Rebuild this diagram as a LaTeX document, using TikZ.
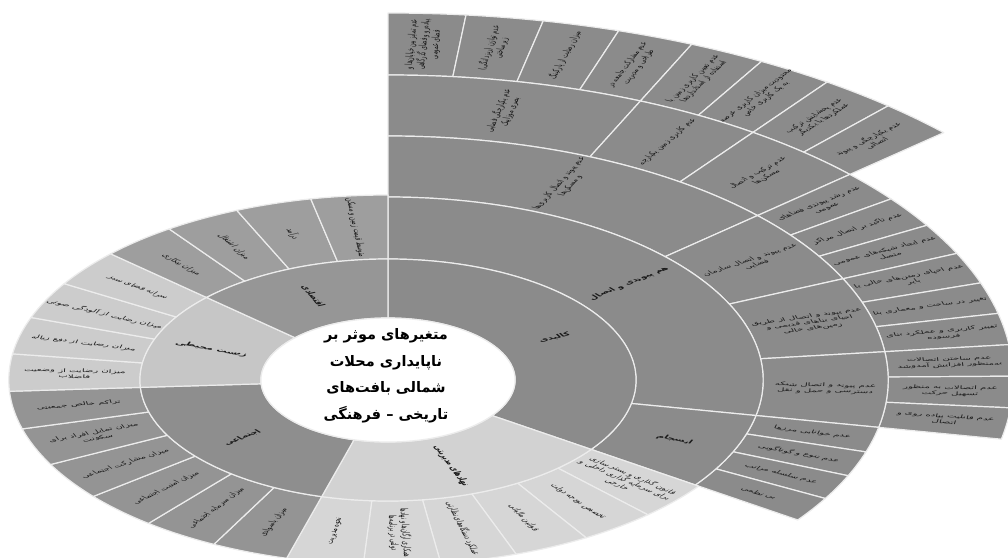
\documentclass[tikz,border=0pt]{standalone}
\usepackage{fontspec}
\TeXXeTstate=1
\newfontfamily\arabicfont[Script=Arabic]{DejaVu Sans}
\newcommand\fa[1]{\beginR#1\endR}
\definecolor{kal}{RGB}{139,139,139}
\definecolor{nahA}{RGB}{210,210,210}
\definecolor{nahB}{RGB}{214,214,214}
\definecolor{ejtA}{RGB}{142,142,142}
\definecolor{ejtB}{RGB}{148,148,148}
\definecolor{zisA}{RGB}{198,198,198}
\definecolor{zisB}{RGB}{204,204,204}
\definecolor{eqtA}{RGB}{150,150,150}
\definecolor{eqtB}{RGB}{158,158,158}
\definecolor{sepc}{RGB}{236,236,236}
\definecolor{txt}{RGB}{25,25,25}
\tikzset{
 sep/.style={draw=sepc,line width=1.2pt,line join=round},
 lbl/.style={font=\arabicfont\fontsize{4.9}{5.9}\selectfont,text=txt,align=center,inner sep=0pt},
 lblb/.style={font=\arabicfont\bfseries\fontsize{5.2}{6.2}\selectfont,text=txt,align=center,inner sep=0pt},
 ttl/.style={font=\arabicfont\bfseries\fontsize{14.5}{26.5}\selectfont,text=black,align=center,inner sep=0pt},
}
\newcommand\seg[5]{\filldraw[sep,fill=#5] (#1:#3) arc[start angle=#1,end angle=#2,radius=#3] -- (#2:#4) arc[start angle=#2,end angle=#1,radius=#4] -- cycle;}
\newcommand\lab[5][lbl]{%
  \pgfmathsetmacro\labrot{cos(#2)<0 ? #2+180 : #2}%
  \node[#1,transform shape,rotate=\labrot] (#4) at (#2:#3) {#5};}
\begin{document}
\begin{tikzpicture}[x=1pt,y=1pt]
\useasboundingbox (0,0) rectangle (1008,-557);
\fill[white] (0,0) rectangle (1008,-557);
\clip (0,0) rectangle (1008,-557);
\begin{scope}[shift={(388,-380)},xscale=2.05]
% ---------- ring 5
\seg{90}{84.048}{305}{367}{kal}
\seg{84.048}{78.095}{305}{367}{kal}
\seg{78.095}{72.143}{305}{367}{kal}
\seg{72.143}{66.190}{305}{367}{kal}
\seg{66.190}{60.238}{305}{367}{kal}
\seg{60.238}{54.286}{305}{367}{kal}
\seg{54.286}{48.333}{305}{367}{kal}
\seg{48.333}{42.381}{305}{367}{kal}
% ---------- ring 4
\seg{90}{66.190}{244}{305}{kal}
\seg{66.190}{54.286}{244}{305}{kal}
\seg{54.286}{42.381}{244}{305}{kal}
\seg{42.381}{36.429}{244}{305}{kal}
\seg{36.429}{30.476}{244}{305}{kal}
\seg{30.476}{24.524}{244}{305}{kal}
\seg{24.524}{18.571}{244}{305}{kal}
\seg{18.571}{12.619}{244}{305}{kal}
\seg{12.619}{6.667}{244}{305}{kal}
\seg{6.667}{0.714}{244}{305}{kal}
\seg{0.714}{-5.238}{244}{305}{kal}
\seg{-5.238}{-11.190}{244}{305}{kal}
% ---------- ring 3
\seg{90}{42.381}{183}{244}{kal}
\seg{42.381}{24.524}{183}{244}{kal}
\seg{24.524}{6.667}{183}{244}{kal}
\seg{6.667}{-11.190}{183}{244}{kal}
\seg{-11.190}{-17.143}{183}{244}{kal}
\seg{-17.143}{-23.095}{183}{244}{kal}
\seg{-23.095}{-29.048}{183}{244}{kal}
\seg{-29.048}{-35}{183}{244}{kal}
% ---------- ring 2
\seg{90}{-11.190}{121}{183}{kal}
\seg{-11.190}{-35}{121}{183}{kal}
\seg{-35}{-46.75}{121}{185}{nahB}
\seg{-46.75}{-58.5}{121}{185}{nahB}
\seg{-58.5}{-70.25}{121}{185}{nahB}
\seg{-70.25}{-82}{121}{185}{nahB}
\seg{-82}{-93.75}{121}{185}{nahB}
\seg{-93.75}{-105.5}{121}{185}{nahB}
\seg{-105.5}{-117.33}{121}{185}{ejtB}
\seg{-117.33}{-129.17}{121}{185}{ejtB}
\seg{-129.17}{-141}{121}{185}{ejtB}
\seg{-141}{-152.83}{121}{185}{ejtB}
\seg{-152.83}{-164.67}{121}{185}{ejtB}
\seg{-164.67}{-176.5}{121}{185}{ejtB}
\seg{183.5}{171.875}{121}{185}{zisB}
\seg{171.875}{160.25}{121}{185}{zisB}
\seg{160.25}{148.625}{121}{185}{zisB}
\seg{148.625}{137}{121}{185}{zisB}
\seg{137}{125.25}{121}{185}{eqtB}
\seg{125.25}{113.5}{121}{185}{eqtB}
\seg{113.5}{101.75}{121}{185}{eqtB}
\seg{101.75}{90}{121}{185}{eqtB}
% ---------- ring 1
\seg{90}{-35}{62}{121}{kal}
\seg{-35}{-105.5}{62}{121}{nahA}
\seg{-105.5}{-176.5}{62}{121}{ejtA}
\seg{183.5}{137}{62}{121}{zisA}
\seg{137}{90}{62}{121}{eqtA}
% ---------- centre
\filldraw[sep,fill=white] (0,0) circle[radius=62];
% ---------- labels ring 5
\lab{87.02}{336}{t1}{\fa{عدم تمایز بین خیابان‌ها و}\\\fa{پیاده‌رو و فضای گذرگاهی}\\\fa{فضای عمومی}}
\lab{81.07}{336}{t2}{\fa{عدم توازن (ریزدانگی)}\\\fa{زیرساختی}}
\lab{75.12}{336}{t3}{\fa{میزان رضایت از پارکینگ}}
\lab{69.17}{336}{t4}{\fa{عدم مشارکت جامعه در}\\\fa{طراحی و مدیریت}}
\lab{63.21}{336}{t5}{\fa{عدم تعیین کاربری زمین با}\\\fa{استفاده از استانداردها}}
\lab{57.26}{336}{t6}{\fa{محدودیت میزان کاربری عرصه}\\\fa{به یک کاربری خاص}}
\lab{51.31}{336}{t7}{\fa{عدم پخشایش ترکیب}\\\fa{عملکردها با یکدیگر}}
\lab{45.36}{336}{t8}{\fa{عدم یکپارچگی و پیوند}\\\fa{اتصالی}}
% ---------- labels ring 4
\lab{78.10}{274.5}{u1}{\fa{عدم یکپارچگی فضایی}\\\fa{بصری موزاییک}}
\lab{60.24}{274.5}{u2}{\fa{عدم کاربری زمین یکپارچه}}
\lab{48.33}{274.5}{u3}{\fa{عدم ترکیب و اتصال}\\\fa{مسکن‌ها}}
\lab{39.40}{274.5}{u4}{\fa{عدم رشد پیوندی فضاهای}\\\fa{عمومی}}
\lab{33.45}{274.5}{u5}{\fa{عدم تاکید بر اتصال مراکز}}
\lab{27.50}{274.5}{u6}{\fa{عدم ایجاد شبکه‌های عمومی}\\\fa{متصل}}
\lab{21.55}{274.5}{u7}{\fa{عدم احیای زمین‌های خالی یا}\\\fa{بایر}}
\lab{15.60}{274.5}{u8}{\fa{تغییر در ساخت و معماری بنا}}
\lab{9.64}{274.5}{u9}{\fa{تغییر کاربری و عملکرد بنای}\\\fa{فرسوده}}
\lab{3.69}{274.5}{u10}{\fa{عدم ساختن اتصالات}\\\fa{به‌منظور افزایش آمدوشد}}
\lab{-2.26}{274.5}{u11}{\fa{عدم اتصالات به منظور}\\\fa{تسهیل حرکت}}
\lab{-8.21}{274.5}{u12}{\fa{عدم قابلیت پیاده روی و}\\\fa{اتصال}}
% ---------- labels ring 3
\lab{66.19}{213.5}{v1}{\fa{عدم پیوند و اتصال کاربری‌ها}\\\fa{و مسکن‌ها}}
\lab{33.45}{213.5}{v2}{\fa{عدم پیوند و اتصال سازمان}\\\fa{فضایی}}
\lab{15.60}{213.5}{v3}{\fa{عدم پیوند و اتصال از طریق}\\\fa{احیای بناهای قدیمی و}\\\fa{زمین‌های خالی}}
\lab{-2.26}{213.5}{v4}{\fa{عدم پیوند و اتصال شبکه}\\\fa{دسترسی و حمل و نقل}}
\lab{-14.17}{213.5}{v5}{\fa{عدم خوانایی مرزها}}
\lab{-20.12}{213.5}{v6}{\fa{عدم تنوع و گوناگونی}}
\lab{-26.07}{213.5}{v7}{\fa{عدم سلسله مراتب}}
\lab{-32.02}{213.5}{v8}{\fa{بی نظمی}}
% ---------- labels ring 2
\lab[lblb]{39.40}{152}{w1}{\fa{هم پیوندی و اتصال}}
\lab[lblb]{-23.10}{152}{w2}{\fa{انسجام}}
\lab{-40.875}{153}{n1}{\fa{قانون گذاری و بستر سازی}\\\fa{برای سرمایه گذاری داخلی و}\\\fa{خارجی}}
\lab{-52.625}{153}{n2}{\fa{تخصیص بودجه دولت}}
\lab{-64.375}{153}{n3}{\fa{قوانین مالیاتی}}
\lab{-76.125}{153}{n4}{\fa{عملکرد دستگاه‌های نظارتی}}
\lab{-87.875}{153}{n5}{\fa{همکاری ارگان‌ها و نهادها}\\\fa{دولتی در برنامه‌ها}}
\lab{-99.625}{153}{n6}{\fa{نحوه مدیریت}}
\lab{-111.42}{153}{e1}{\fa{میزان باسوادی}}
\lab{-123.25}{153}{e2}{\fa{میزان سرمایه اجتماعی}}
\lab{-135.08}{153}{e3}{\fa{میزان امنیت اجتماعی}}
\lab{-146.92}{153}{e4}{\fa{میزان مشارکت اجتماعی}}
\lab{-158.75}{153}{e5}{\fa{میزان تمایل افراد برای}\\\fa{سکونت}}
\lab{-170.58}{153}{e6}{\fa{تراکم خالص جمعیتی}}
\lab{177.69}{153}{z1}{\fa{میزان رضایت از وضعیت}\\\fa{فاضلاب}}
\lab{166.06}{153}{z2}{\fa{میزان رضایت از دفع زباله}}
\lab{154.44}{153}{z3}{\fa{میزان رضایت از آلودگی صوتی}}
\lab{142.81}{153}{z4}{\fa{سرانه فضای سبز}}
\lab{131.125}{153}{q1}{\fa{میزان بیکاری}}
\lab{119.375}{153}{q2}{\fa{میزان اشتغال}}
\lab{107.625}{153}{q3}{\fa{درآمد}}
\lab{95.875}{153}{q4}{\fa{متوسط قیمت زمین و مسکن}}
% ---------- labels ring 1
\lab[lblb]{27.5}{91.5}{k}{\fa{کالبدی}}
\lab[lblb]{-70.25}{91.5}{nah}{\fa{نهادهای مدیریتی}}
\lab[lblb]{-141}{91.5}{ejt}{\fa{اجتماعی}}
\lab[lblb]{160.25}{91.5}{zis}{\fa{زیست محیطی}}
\lab[lblb]{113.5}{91.5}{eqt}{\fa{اقتصادی}}
\end{scope}
\node[ttl] (title) at (386,-376) {\fa{متغیرهای موثر بر}\\\fa{ناپایداری محلات}\\\fa{شمالی بافت‌های}\\\fa{تاریخی – فرهنگی}};
\end{tikzpicture}
\end{document}
